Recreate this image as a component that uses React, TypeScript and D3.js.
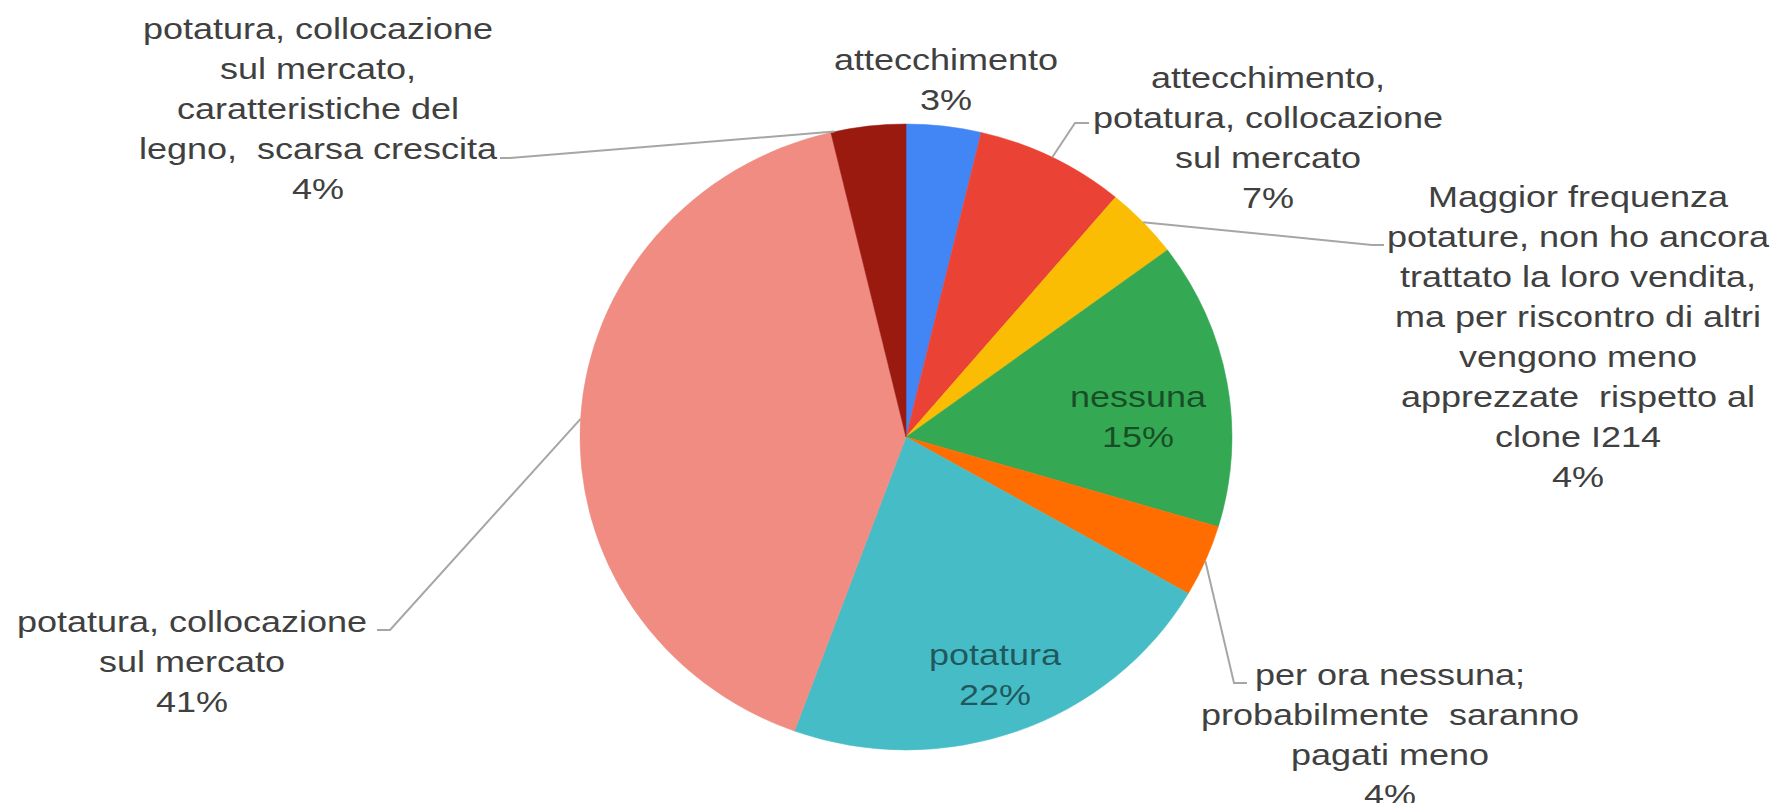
import React from "react";
import * as d3 from "d3";

// ---- data ----
const categories: string[][] = [
  ["attecchimento"],
  ["attecchimento,", "potatura, collocazione", "sul mercato"],
  [
    "Maggior frequenza",
    "potature, non ho ancora",
    "trattato la loro vendita,",
    "ma per riscontro di altri",
    "vengono meno",
    "apprezzate  rispetto al",
    "clone I214",
  ],
  ["nessuna"],
  ["per ora nessuna;", "probabilmente  saranno", "pagati meno"],
  ["potatura"],
  ["potatura, collocazione", "sul mercato"],
  ["potatura, collocazione", "sul mercato,", "caratteristiche del", "legno,  scarsa crescita"],
];
const shares: number[] = [3.7, 7.4, 3.7, 14.8, 3.7, 22.2, 40.7, 3.7];
const percentLabels: string[] = ["3%", "7%", "4%", "15%", "4%", "22%", "41%", "4%"];
const colors: string[] = [
  "#4285F4",
  "#EA4335",
  "#FBBC04",
  "#34A853",
  "#FF6D01",
  "#46BDC6",
  "#F08C82",
  "#9A1A10",
];

// ---- layout ----
const W = 1778;
const H = 803;
const CX = 906;
const CY = 437;
const R = 313;
const SX = 326 / 313; // horizontal stretch of the pie
const TEXT_SX = 1.2;
const FONT = 30;
const LINE = 40;

type LabelLayout = {
  cx: number;
  y0: number;
  inside?: boolean;
  leader?: { attach: number; elbow: [number, number]; end: [number, number] };
};
const labelLayout: LabelLayout[] = [
  { cx: 946, y0: 70 },
  { cx: 1268, y0: 88, leader: { attach: 0.5, elbow: [1075, 123], end: [1089, 123] } },
  { cx: 1578, y0: 207, leader: { attach: 0.5, elbow: [1372, 245], end: [1384, 245] } },
  { cx: 1138, y0: 407, inside: true },
  { cx: 1390, y0: 685, leader: { attach: 0.5, elbow: [1234, 683], end: [1247, 683] } },
  { cx: 995, y0: 665, inside: true },
  { cx: 192, y0: 632, leader: { attach: 0.5, elbow: [390, 630], end: [377, 630] } },
  { cx: 318, y0: 39, leader: { attach: 0.05, elbow: [510, 158], end: [500, 158] } },
];

export default function App() {
  const pie = d3.pie<number>().sort(null).value((d) => d);
  const arcs = pie(shares);
  const arcGen = d3.arc<d3.PieArcDatum<number>>().innerRadius(0).outerRadius(R);

  const pointAt = (a: number): [number, number] => [
    CX + SX * R * Math.sin(a),
    CY - R * Math.cos(a),
  ];

  return (
    <svg
      width={W}
      height={H}
      style={{ position: "absolute", left: 0, top: 0, background: "#fff" }}
      fontFamily="'Liberation Sans', Arial, sans-serif"
    >
      <rect width={W} height={H} fill="#ffffff" />
      <g transform={`translate(${CX},${CY}) scale(${SX},1)`}>
        {arcs.map((a, i) => (
          <path key={i} d={arcGen(a) || ""} fill={colors[i]} stroke={colors[i]} strokeWidth={0.5} />
        ))}
      </g>
      {labelLayout.map((l, i) => {
        if (!l.leader) return null;
        const a = arcs[i].startAngle + (arcs[i].endAngle - arcs[i].startAngle) * l.leader.attach;
        const p = pointAt(a);
        const line = d3.line()([p, l.leader.elbow, l.leader.end]);
        return (
          <path key={"l" + i} d={line || ""} fill="none" stroke="#A6A6A6" strokeWidth={2} />
        );
      })}
      {labelLayout.map((l, i) => {
        const lines = [...categories[i], percentLabels[i]];
        return (
          <g key={"t" + i} transform={`translate(${l.cx},0) scale(${TEXT_SX},1)`}>
            <text
              textAnchor="middle"
              fontSize={FONT}
              fill={l.inside ? "#000000" : "#404040"}
              fillOpacity={l.inside ? 0.55 : 1}
              style={{ whiteSpace: "pre" }}
            >
              {lines.map((s, j) => (
                <tspan key={j} x={0} y={l.y0 + j * LINE}>
                  {s}
                </tspan>
              ))}
            </text>
          </g>
        );
      })}
    </svg>
  );
}
